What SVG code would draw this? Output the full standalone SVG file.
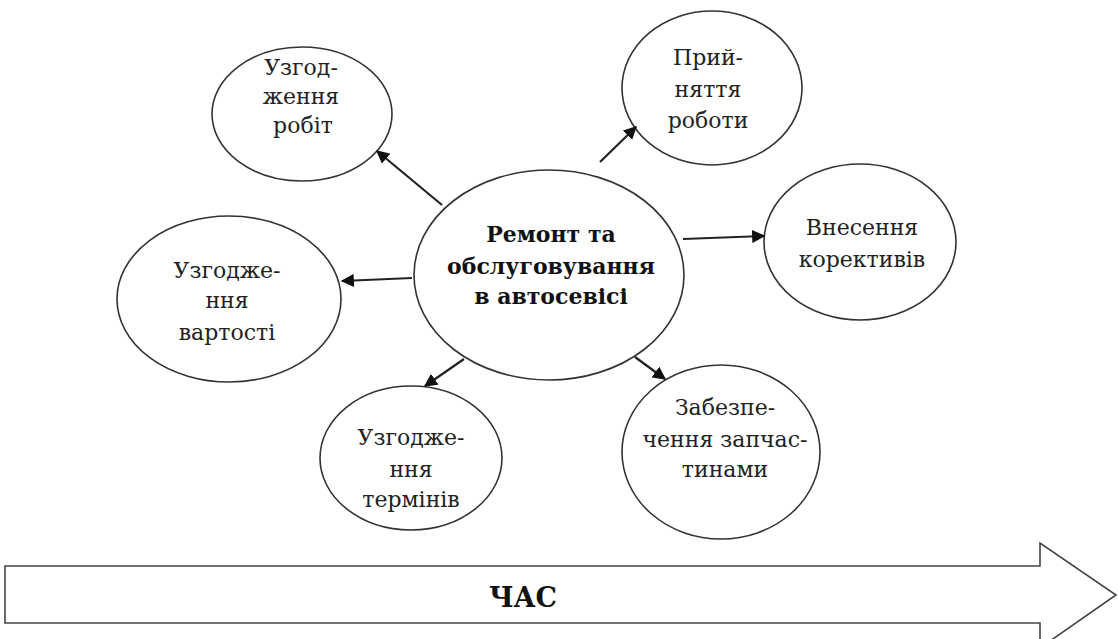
<svg xmlns="http://www.w3.org/2000/svg" width="1118" height="639" viewBox="0 0 1118 639">
<style>
.node ellipse{fill:#fff;stroke:#333;stroke-width:1.6}
.t{font-family:'DejaVu Serif','Liberation Serif',serif;font-size:22px;fill:#222;text-anchor:middle}
.b{font-weight:bold;fill:#111}
.conn line{stroke:#222;stroke-width:2.2}
</style>
<defs>
<marker id="ah" viewBox="0 0 10 10" refX="9" refY="5" markerWidth="6" markerHeight="6" orient="auto" markerUnits="strokeWidth">
<path d="M0,0 L10,5 L0,10 z" fill="#111"/>
</marker>
</defs>
<rect width="1118" height="639" fill="#fff"/>
<g id="time-arrow">
<path d="M5,566 L1040,566 L1040,543 L1116,595 L1040,648 L1040,623 L5,623 Z" fill="#fff" stroke="#444" stroke-width="1.6"/>
<text class="t b" x="523" y="607" style="font-size:27px">ЧАС</text>
</g>
<g id="n-center" class="node">
<ellipse cx="549" cy="275" rx="135" ry="105"/>
<text class="t b" x="551" y="242">Ремонт та</text>
<text class="t b" x="551" y="274">обслуговування</text>
<text class="t b" x="551" y="304">в автосевісі</text>
</g>
<g id="n-robit" class="node">
<ellipse cx="302" cy="114" rx="90" ry="67"/>
<text class="t" x="301" y="75">Узгод-</text>
<text class="t" x="301" y="104">ження</text>
<text class="t" x="303" y="133">робіт</text>
</g>
<g id="n-pryiniattia" class="node">
<ellipse cx="712" cy="88" rx="90" ry="77"/>
<text class="t" x="708" y="65">Прий-</text>
<text class="t" x="708" y="97">няття</text>
<text class="t" x="708" y="128">роботи</text>
</g>
<g id="n-korektyvy" class="node">
<ellipse cx="860" cy="242" rx="96" ry="78"/>
<text class="t" x="862" y="235">Внесення</text>
<text class="t" x="862" y="267">корективів</text>
</g>
<g id="n-vartist" class="node">
<ellipse cx="229" cy="299" rx="112" ry="83"/>
<text class="t" x="227" y="278">Узгодже-</text>
<text class="t" x="227" y="308">ння</text>
<text class="t" x="227" y="340">вартості</text>
</g>
<g id="n-terminy" class="node">
<ellipse cx="411" cy="458" rx="91" ry="72"/>
<text class="t" x="411" y="445">Узгодже-</text>
<text class="t" x="411" y="477">ння</text>
<text class="t" x="411" y="507">термінів</text>
</g>
<g id="n-zapchastyny" class="node">
<ellipse cx="721" cy="452" rx="99" ry="87"/>
<text class="t" x="725" y="415">Забезпе-</text>
<text class="t" x="725" y="447">чення запчас-</text>
<text class="t" x="725" y="477">тинами</text>
</g>
<g id="connectors" class="conn">
<line x1="442" y1="205" x2="377" y2="151" marker-end="url(#ah)"/>
<line x1="600" y1="162" x2="636" y2="127" marker-end="url(#ah)"/>
<line x1="683" y1="239" x2="764" y2="236" marker-end="url(#ah)"/>
<line x1="412" y1="278" x2="342" y2="281" marker-end="url(#ah)"/>
<line x1="464" y1="359" x2="425" y2="386" marker-end="url(#ah)"/>
<line x1="635" y1="357" x2="665" y2="379" marker-end="url(#ah)"/>
</g>
</svg>
